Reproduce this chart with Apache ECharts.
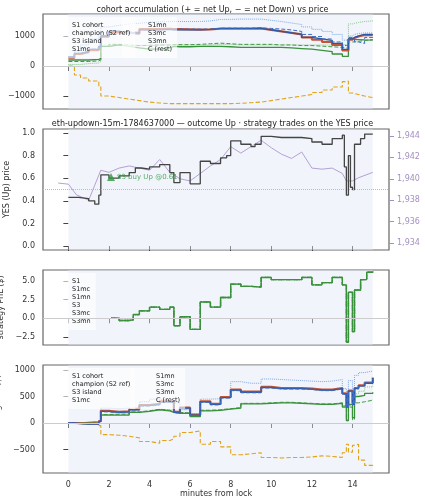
<!DOCTYPE html>
<html><head><meta charset="utf-8">
<script src="https://cdn.jsdelivr.net/npm/echarts@6/dist/echarts.min.js"></script>
<style>html,body{margin:0;padding:0;background:#fff}#c{width:425px;height:500px}</style>
</head><body><div id="c"></div>
<script>
// ---- panel 1 & 4 shared time grid (minutes from lock)
const tA = [0,0.3,0.6,1,1.5,1.6,2,2.5,3,3.5,4,4.5,5,5.2,5.5,6,6.5,7,7.5,8,8.5,9,9.5,10,10.5,11,11.5,12,12.5,13,13.5,13.7,13.8,14,14.1,14.3,14.6,15];
// panel 1: accumulated net YES shares
const accS1 =   [300,420,480,550,650,1000,1150,1120,1100,1200,1200,1220,1200,1200,1200,1200,1220,1250,1250,1250,1250,1250,1200,1150,1100,1050,950,900,850,750,550,550,900,950,1000,1050,1050,1050];
const accCh =   [280,400,460,530,630,980,1120,1100,1080,1230,1230,1240,1230,1230,1220,1210,1220,1240,1240,1240,1240,1250,1200,1150,1100,1050,950,880,800,700,520,520,880,930,980,1030,1030,1040];
const accS3 =   [200,200,200,220,250,650,700,650,600,560,560,600,650,640,640,650,650,650,640,620,620,620,620,620,600,580,560,520,480,400,320,320,900,880,880,870,860,850];
const accS1mc = [300,420,480,560,660,1010,1160,1140,1120,1210,1220,1230,1230,1230,1230,1230,1230,1260,1260,1260,1260,1270,1250,1230,1200,1150,1050,980,900,800,680,680,950,900,800,750,950,1000];
const accS1mn = [300,500,700,900,1100,1300,1350,1400,1420,1460,1470,1480,1480,1480,1480,1480,1500,1550,1550,1560,1560,1560,1520,1480,1430,1380,1300,1220,1150,1050,860,860,1000,1050,1080,1100,1100,1100];
const accS3mc = [150,150,150,170,200,650,720,700,680,690,700,700,710,710,710,720,740,760,740,720,720,720,720,700,700,680,680,660,640,620,600,600,800,800,820,850,880,900];
const accS3mn = [50,50,80,100,150,650,700,700,680,680,690,700,700,700,700,700,700,720,720,700,700,700,700,700,700,700,700,700,700,700,720,720,1400,1420,1450,1480,1500,1520];
const accC =    [0,-300,-400,-500,-700,-1000,-1050,-1100,-1150,-1200,-1230,-1250,-1250,-1250,-1250,-1250,-1250,-1250,-1250,-1240,-1220,-1200,-1150,-1100,-1050,-1000,-950,-880,-800,-700,-520,-500,-900,-920,-950,-1000,-1050,-1050];
// panel 4: cohort moving PnL ($)
const pnlS1 =   [0,-10,-20,-20,30,220,200,210,250,330,350,400,380,200,280,150,400,350,480,620,580,580,670,650,650,650,640,620,620,650,550,300,600,350,650,700,750,850];
const pnlCh =   [0,-5,-10,-10,35,230,210,220,260,340,360,410,390,210,290,160,410,360,490,630,590,590,680,660,660,660,650,630,630,660,560,320,610,380,660,710,760,860];
const pnlS3 =   [0,0,10,20,30,150,150,150,200,220,250,230,200,180,180,120,230,240,260,280,360,360,370,380,380,370,360,350,350,370,300,50,350,100,500,520,560,580];
const pnlS1mc = [0,-10,-20,-20,25,210,195,205,245,320,340,390,370,190,270,140,390,340,470,610,570,570,660,640,640,640,630,610,610,640,540,290,590,340,640,700,760,830];
const pnlS1mn = [0,0,-10,0,40,280,270,280,300,400,450,430,420,380,250,170,450,460,500,780,750,750,830,820,810,800,790,780,790,820,650,400,800,450,900,950,980,990];
const pnlS3mc = [0,0,10,20,35,160,165,170,210,230,260,240,220,200,190,130,240,250,270,290,370,370,380,390,390,380,370,360,360,380,320,40,300,60,380,400,430,450];
const pnlS3mn = [0,0,10,20,35,160,170,170,210,230,260,250,230,200,190,130,240,250,270,290,370,370,380,390,390,380,370,360,360,380,320,60,330,80,550,600,680,730];
const pnlC =    [0,0,10,0,-50,-220,-230,-250,-280,-350,-380,-330,-300,-250,-180,-150,-400,-350,-450,-600,-580,-560,-650,-660,-650,-650,-640,-620,-630,-650,-560,-400,-550,-420,-400,-700,-800,-850];
// panel 2: YES price and ETH/USD
const tP =   [0,0.5,1,1.3,1.5,1.6,2,2.5,3,3.3,3.6,4,4.5,5,5.2,5.5,6,6.5,7,7.5,7.8,8,8.5,9,9.2,9.5,10,10.5,11,11.5,12,12.5,13,13.5,13.6,13.7,13.8,13.9,14,14.1,14.4,14.6,15];
const yesP = [0.43,0.42,0.40,0.37,0.45,0.63,0.60,0.62,0.65,0.69,0.68,0.70,0.72,0.65,0.56,0.65,0.55,0.75,0.73,0.78,0.80,0.93,0.90,0.88,0.90,0.97,0.96,0.96,0.96,0.95,0.92,0.90,0.95,0.98,0.70,0.45,0.80,0.52,0.50,0.90,0.95,0.99,0.99];
const tE =   [-0.5,0,0.4,1,1.3,1.6,2,2.5,3,3.5,4,4.5,5,5.5,6,6.5,7,7.5,8,8.5,9,9.5,10,10.5,11,11.5,12,12.5,13,13.5,13.7,14,14.3,15];
const eth =  [1939.6,1939.5,1938.5,1938.0,1939.4,1940.8,1940.6,1941.0,1941.2,1941.0,1940.8,1941.8,1940.6,1940.0,1939.8,1940.5,1941.2,1941.8,1943.0,1942.4,1943.0,1943.6,1942.9,1942.3,1941.9,1942.5,1941.0,1940.9,1941.0,1940.5,1939.8,1939.8,1940.1,1940.6];
const strike = 0.5;
const entry = [[2.1,0.61]];
// panel 3: strategy PnL ($)
const tS =   [2.1,2.5,3,3.2,3.5,4,4.5,5,5.2,5.5,6,6.5,7,7.5,8,8.5,9,9.5,10,11,11.5,12,12.5,13,13.5,13.7,13.8,14,14.1,14.4,14.7,15];
const pnlStrat = [0,-0.3,-0.2,0.5,1.0,1.5,1.2,1.5,-1.0,0.2,-1.5,2.2,1.5,2.8,4.6,4.3,4.2,5.5,5.2,5.2,5.5,4.5,4.8,5.5,4.5,-3.2,3.5,-1.8,3.8,5.2,6.2,6.3];
const xTicks = [0,2,4,6,8,10,12,14];

const z = (t,v)=>t.map((x,i)=>[x,v[i]]);
const C = {s1:'#2b58a6', ch:'#c1553a', s3:'#3a913c', s1mc:'#3b6dc2', s1mn:'#7ea8e6', s3mc:'#3f9b3f', s3mn:'#86c886', c:'#e0a418'};
const F = 'DejaVu Sans';
function ln(name,gi,data,color,type,w,z2){return {name,type:'line',xAxisIndex:gi,yAxisIndex:gi,data,step:'end',symbol:'none',z:z2||2,lineStyle:{color,type:type||'solid',width:w||1.3},itemStyle:{color}};}
const shade = {silent:true,itemStyle:{color:'rgba(225,230,245,0.45)'},data:[[{xAxis:0},{xAxis:15}]]};
const zeroL = {silent:true,symbol:'none',label:{show:false},lineStyle:{color:'#ccc',type:'solid',width:1},data:[{yAxis:0}]};
const grids=[{top:14,height:95},{top:129,height:121},{top:270,height:75},{top:365,height:108}].map(g=>({left:43,right:36,top:g.top,height:g.height,show:true,borderColor:'#666',borderWidth:1.2,backgroundColor:'#fff',containLabel:false,outerBoundsMode:'none'}));
const xAxes=[0,1,2,3].map(i=>({type:'value',gridIndex:i,min:-1.25,max:15.8,splitLine:{show:false},axisLine:{show:false},axisTick:{show:true,customValues:xTicks,lineStyle:{color:'#444'}},axisLabel:{show:i===3,customValues:xTicks,fontSize:8,color:'#333',fontFamily:F},name:i===3?'minutes from lock':'',nameLocation:'middle',nameGap:15,nameTextStyle:{fontSize:8,color:'#333',fontFamily:F}}));
function yA(gi,min,max,cv,name,fmt){return {type:'value',gridIndex:gi,min,max,splitLine:{show:false},axisLine:{show:false},axisTick:{show:true,customValues:cv,lineStyle:{color:'#444'}},axisLabel:{customValues:cv,fontSize:8,color:'#333',fontFamily:F,formatter:fmt},name,nameLocation:'middle',nameGap:26,nameTextStyle:{fontSize:8,color:'#333',fontFamily:F}};}
const yAxes=[
 yA(0,-1430,1730,[-1000,0,1000],'acc. net YES (shares)',v=>v<0?'\u2212'+(-v):''+v),
 yA(1,-0.035,1.035,[0,0.2,0.4,0.6,0.8,1.0],'YES (Up) price',v=>v.toFixed(1)),
 yA(2,-3.6,6.5,[-2.5,0,2.5,5],'strategy PnL ($)',v=>v<0?'\u2212'+(-v).toFixed(1):v.toFixed(1)),
 yA(3,-943,1094,[-500,0,500,1000],'cohort moving PnL ($)',v=>v<0?'\u2212'+(-v):''+v),
 {type:'value',gridIndex:1,position:'right',min:1933.35,max:1944.65,splitLine:{show:false},axisLine:{show:false},axisTick:{show:true,customValues:[1934,1936,1938,1940,1942,1944],lineStyle:{color:'#a48fc4'}},axisLabel:{customValues:[1934,1936,1938,1940,1942,1944],fontSize:8,color:'#a48fc4',fontFamily:F},name:'ETH/USD (strike dotted = YES 0.5)',nameLocation:'middle',nameGap:27,nameRotate:-90,nameTextStyle:{fontSize:7,color:'#a48fc4',fontFamily:F}}
];
const S=[];
function cohort(gi,v){
 const [a,b,c,d,e,f,g,h]=v;
 const s=[ln('S1mn',gi,z(tA,e),C.s1mn,'dotted',1),ln('S3mn',gi,z(tA,g),C.s3mn,'dotted',1),ln('S3mc',gi,z(tA,f),C.s3mc,'dashed',1),
  ln('C (rest)',gi,z(tA,h),C.c,'dashed',1.1),ln('S3 island',gi,z(tA,c),C.s3,'solid',1.3),ln('champion (S2 ref)',gi,z(tA,b),C.ch,'solid',2.2),
  ln('S1 cohort',gi,z(tA,a),C.s1,'solid',1.3,3),ln('S1mc',gi,z(tA,d),C.s1mc,'dashed',1,3)];
 s[0].markArea=shade; s[0].markLine=zeroL; return s;}
S.push(...cohort(0,[accS1,accCh,accS3,accS1mc,accS1mn,accS3mc,accS3mn,accC]));
S.push(...cohort(3,[pnlS1,pnlCh,pnlS3,pnlS1mc,pnlS1mn,pnlS3mc,pnlS3mn,pnlC]));
const ethS=ln('ETH',1,z(tE,eth),'#b3a2d4','solid',1); ethS.yAxisIndex=4; ethS.step=false; ethS.markArea=shade;
const yes=ln('YES',1,z(tP,yesP),'#444','solid',1.3,3); yes.markLine={silent:true,symbol:'none',label:{show:false},lineStyle:{color:'#bbb',type:'dotted',width:1},data:[{yAxis:strike}]};
S.push(ethS,yes,{type:'scatter',xAxisIndex:1,yAxisIndex:1,data:entry,symbol:'triangle',symbolSize:8,itemStyle:{color:'#2e9a3e'},z:5,label:{show:true,position:'right',distance:2,formatter:'S3 buy Up @0.61',fontSize:7,color:'#2e9a3e',fontFamily:F}});
const p3=[ln('S1',2,[],C.s1,'solid',1.3),ln('S1mc',2,[],C.s1,'dashed',1.3),ln('S1mn',2,[],C.s1mc,'dotted',1.3),
 ln('S3',2,z(tS,pnlStrat),C.s3,'solid',1.4,3),ln('S3mc',2,z(tS,pnlStrat),C.s3,'dashed',1.3),ln('S3mn',2,z(tS,pnlStrat),C.s3,'dotted',1.3)];
p3[0].markArea=shade; p3[0].markLine=zeroL; S.push(...p3);
const lg=(left,top,data)=>({left,top,orient:'vertical',itemWidth:16,itemHeight:6,itemGap:1,data,icon:'none',itemStyle:{opacity:0},textStyle:{fontSize:6.5,color:'#222',fontFamily:F},selectedMode:false,backgroundColor:'rgba(255,255,255,0.6)'});
const titles=[{text:'cohort accumulation (+ = net Up, \u2212 = net Down) vs price',top:1},{text:'eth-updown-15m-1784637000 \u2014 outcome Up \u00b7 strategy trades on the YES price',top:115}].map(t=>({...t,left:'center',textStyle:{fontSize:8,fontWeight:'normal',color:'#222',fontFamily:F}}));
const chart=echarts.init(document.getElementById('c'),null,{renderer:'canvas'});
chart.setOption({animation:false,title:titles,grid:grids,xAxis:xAxes,yAxis:yAxes,series:S,
 legend:[lg(46,17,['S1 cohort','champion (S2 ref)','S3 island','S1mc']),lg(122,17,['S1mn','S3mc','S3mn','C (rest)']),
  lg(46,273,['S1','S1mc','S1mn','S3','S3mc','S3mn']),
  lg(46,368,['S1 cohort','champion (S2 ref)','S3 island','S1mc']),lg(130,368,['S1mn','S3mc','S3mn','C (rest)'])]});
</script></body></html>
